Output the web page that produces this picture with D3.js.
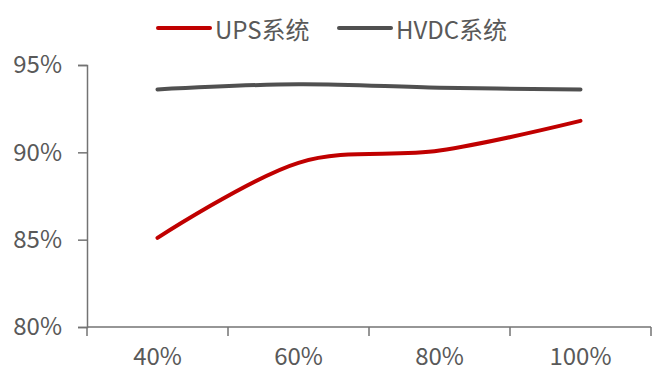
<!DOCTYPE html>
<html>
<head>
<meta charset="utf-8">
<script src="https://cdn.jsdelivr.net/npm/d3@7/dist/d3.min.js"></script>
<style>
  html, body { margin: 0; padding: 0; background: #fff; }
  svg { display: block; }
  text { font-family: "Noto Sans CJK SC", "Open Sans", sans-serif; fill: #595959; }
</style>
</head>
<body>
<svg id="chart" width="652" height="372"></svg>
<script>
// Load rate categories and efficiency (%) for the two power systems
const categories = ["40%", "60%", "80%", "100%"];
const upsValues = [85.1, 89.4, 90.1, 91.8];
const hvdcValues = [93.6, 93.9, 93.7, 93.6];
const yTicks = [80, 85, 90, 95];
const seriesNames = ["UPS系统", "HVDC系统"];
const seriesColors = ["#C00000", "#505050"];

const svg = d3.select("#chart");
const margin = { left: 87, right: 0, top: 65, bottom: 45 };
const W = 652, H = 372;

const x = d3.scaleBand().domain(categories).range([margin.left, W - 1]).padding(0);
const y = d3.scaleLinear().domain([80, 95]).range([327, 65]);

const axisColor = "#737373";
const fontSize = 24;

// Y axis
const yAxis = svg.append("g")
  .attr("transform", `translate(${margin.left},0)`)
  .call(d3.axisLeft(y).tickValues(yTicks).tickSize(9).tickPadding(16).tickFormat(d => d + "%"));
yAxis.select(".domain").attr("stroke", axisColor).attr("stroke-width", 1.5);
yAxis.selectAll(".tick line").attr("stroke", axisColor).attr("stroke-width", 1.5);
yAxis.selectAll(".tick text").attr("font-size", fontSize).attr("fill", "#595959")
  .attr("font-family", '"Noto Sans CJK SC", "Open Sans", sans-serif');

// X axis with ticks on band boundaries
const xAxisG = svg.append("g").attr("transform", `translate(0,${y(80)})`);
xAxisG.append("line")
  .attr("x1", margin.left).attr("x2", W - 1)
  .attr("stroke", axisColor).attr("stroke-width", 1.5);
const bounds = categories.map(c => x(c)).concat([x(categories[categories.length - 1]) + x.bandwidth()]);
xAxisG.selectAll("line.tk").data(bounds).join("line")
  .attr("class", "tk")
  .attr("x1", d => d).attr("x2", d => d)
  .attr("y1", 0).attr("y2", 9)
  .attr("stroke", axisColor).attr("stroke-width", 1.5);
xAxisG.selectAll("text").data(categories).join("text")
  .attr("x", d => x(d) + x.bandwidth() / 2)
  .attr("y", 37.5)
  .attr("text-anchor", "middle")
  .attr("font-size", fontSize)
  .text(d => d);

// Smoothed lines
const line = d3.line()
  .x((d, i) => x(categories[i]) + x.bandwidth() / 2)
  .y(d => y(d))
  .curve(d3.curveCatmullRom.alpha(0));

[upsValues, hvdcValues].forEach((vals, k) => {
  svg.append("path")
    .datum(vals)
    .attr("d", line)
    .attr("fill", "none")
    .attr("stroke", seriesColors[k])
    .attr("stroke-width", 4)
    .attr("stroke-linecap", "round");
});

// Legend
const legendItems = [
  { name: seriesNames[0], color: seriesColors[0], x: 158 },
  { name: seriesNames[1], color: seriesColors[1], x: 339 }
];
const lg = svg.append("g");
legendItems.forEach(it => {
  lg.append("line")
    .attr("x1", it.x).attr("x2", it.x + 52)
    .attr("y1", 28).attr("y2", 28)
    .attr("stroke", it.color).attr("stroke-width", 4)
    .attr("stroke-linecap", "round");
  lg.append("text")
    .attr("x", it.x + 57).attr("y", 28)
    .attr("dominant-baseline", "central")
    .attr("font-size", fontSize)
    .text(it.name);
});
</script>
</body>
</html>
